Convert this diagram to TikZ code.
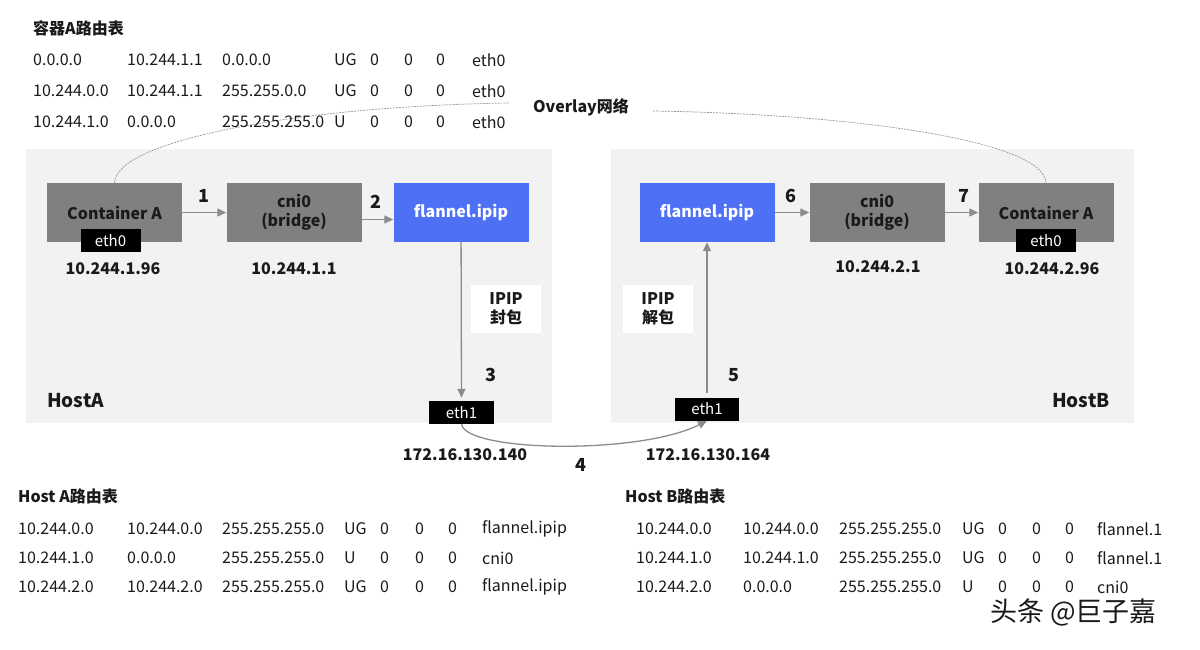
\documentclass[tikz,border=0pt]{standalone}
\usepackage{fontspec}
\setmainfont{Noto Sans CJK SC}
\usetikzlibrary{arrows.meta,positioning}

\definecolor{hostbg}{HTML}{F2F2F2}
\definecolor{boxgray}{HTML}{808080}
\definecolor{flannelblue}{HTML}{4D70F5}
\definecolor{linegray}{HTML}{8C8C8C}
\definecolor{ink}{HTML}{1A1A1A}

\begin{document}
\begin{tikzpicture}[x=1pt,y=-1pt,
  host/.style={fill=hostbg,draw=none,anchor=north west,minimum height=274pt,inner sep=0pt},
  dev/.style={fill=boxgray,minimum width=135pt,minimum height=59pt,inner sep=0pt,align=center,text=ink,font=\fontsize{16}{19}\selectfont\bfseries},
  tun/.style={dev,fill=flannelblue,text=white},
  nic/.style={fill=black,text=white,minimum width=60pt,minimum height=23pt,inner sep=0pt,font=\fontsize{15}{15}\selectfont},
  tag/.style={fill=white,minimum width=70pt,minimum height=48pt,inner sep=0pt,align=center,text=ink,font=\fontsize{16}{19}\selectfont\bfseries},
  ip/.style={text=ink,inner sep=0pt,font=\fontsize{16}{16}\selectfont\bfseries},
  num/.style={text=ink,inner sep=0pt,font=\fontsize{18}{18}\selectfont\bfseries},
  hostlbl/.style={text=ink,inner sep=0pt,font=\fontsize{19}{19}\selectfont\bfseries},
  title/.style={anchor=west,text=ink,inner sep=0pt,font=\fontsize{16}{16}\selectfont\bfseries},
  cell/.style={anchor=west,text=ink,inner sep=0pt,font=\fontsize{16}{16}\selectfont},
  flow/.style={-{Triangle[length=9pt,width=8pt]},draw=linegray,line width=1.3pt},
  overlay line/.style={draw=gray!80,dash pattern=on 2pt off 1pt,line width=0.7pt}
]
\useasboundingbox (0,0) rectangle (1200,650);

% hosts
\node[host,minimum width=526pt] (hostA) at (26,149) {};
\node[host,minimum width=523pt] (hostB) at (611,149) {};

% overlay network
\node[title,anchor=center] (overlay) at (581,107) {Overlay网络};
\coordinate (ovl) at (510,103);
\coordinate (ovr) at (653,111);

% host A
\node[dev] (contA) at (114.5,212.5) {Container A};
\node[nic] (eth0A) at (110.5,240.5) {eth0};
\node[ip] (ipA) at (113,269) {10.244.1.96};
\node[dev] (cniA) at (294,212.5) {cni0\\(bridge)};
\node[ip] (ipcniA) at (294,269) {10.244.1.1};
\node[tun] (flA) at (461,212.5) {flannel.ipip};
\node[tag] (encap) at (506,309) {IPIP\\封包};
\node[nic,minimum width=65pt] (eth1A) at (461.5,412.5) {eth1};
\node[hostlbl,anchor=west] (hostAlbl) at (47,401) {HostA};

% host B
\node[tun] (flB) at (707,212.5) {flannel.ipip};
\node[dev] (cniB) at (877,212.5) {cni0\\(bridge)};
\node[dev] (contB) at (1046,212.5) {Container A};
\node[nic] (eth0B) at (1046,240.5) {eth0};
\node[ip] (ipcniB) at (878,267) {10.244.2.1};
\node[ip] (ipB) at (1052,269) {10.244.2.96};
\node[tag] (decap) at (658,309) {IPIP\\解包};
\node[nic,minimum width=64pt] (eth1B) at (707,409) {eth1};
\node[hostlbl,anchor=east] (hostBlbl) at (1110,401) {HostB};

\draw[overlay line] (contA.north) .. controls (116,140) and (300,106) .. (ovl);
\draw[overlay line] (ovr) .. controls (850,114) and (1044,140) .. (contB.north);

% packet path
\draw[flow] (contA) -- (cniA);
\draw[flow] ([yshift=-7pt]cniA.east) -- ([yshift=-7pt]flA.west);
\draw[flow] (flA) -- ([yshift=3pt]eth1A.north);
\draw[flow] (eth1A.south) .. controls (466,452) and (640,455) .. (eth1B.south);
\draw[flow] ([yshift=4pt]eth1B.north) -- (flB);
\draw[flow] (flB) -- (cniB);
\draw[flow] (cniB) -- (contB);

\node[num] (n1) at (204,196) {1};
\node[num] (n2) at (376,202) {2};
\node[num] (n3) at (491,375) {3};
\node[num] (n4) at (581,465) {4};
\node[num] (n5) at (734,375) {5};
\node[num] (n6) at (791,196) {6};
\node[num] (n7) at (964,196) {7};
\node[ip] (pubA) at (465,455) {172.16.130.140};
\node[ip] (pubB) at (708,455) {172.16.130.164};

% container A routes
\node[title] (tcont) at (33,28) {容器A路由表};
\foreach \dst/\gw/\nmask/\flg/\iface [count=\r] in {
  0.0.0.0/10.244.1.1/0.0.0.0/UG/eth0,
  10.244.0.0/10.244.1.1/255.255.0.0/UG/eth0,
  10.244.1.0/0.0.0.0/255.255.255.0/U/eth0}{
  \pgfmathsetmacro\ry{29+31*\r}
  \node[cell] (c-\r-1) at (33,\ry) {\dst};
  \node[cell] (c-\r-2) at (127,\ry) {\gw};
  \node[cell] (c-\r-3) at (222,\ry) {\nmask};
  \node[cell] (c-\r-4) at (334,\ry) {\flg};
  \node[cell] (c-\r-5) at (370,\ry) {0};
  \node[cell] (c-\r-6) at (404,\ry) {0};
  \node[cell] (c-\r-7) at (436,\ry) {0};
  \node[cell] (c-\r-8) at (472,\ry) {\iface};
}

% host A routes
\node[title] (thosta) at (18,496) {Host A路由表};
\foreach \dst/\gw/\flg/\iface [count=\r] in {
  10.244.0.0/10.244.0.0/UG/flannel.ipip,
  10.244.1.0/0.0.0.0/U/cni0,
  10.244.2.0/10.244.2.0/UG/flannel.ipip}{
  \pgfmathsetmacro\ry{500+29*\r}
  \node[cell] (a-\r-1) at (18,\ry) {\dst};
  \node[cell] (a-\r-2) at (127,\ry) {\gw};
  \node[cell] (a-\r-3) at (222,\ry) {255.255.255.0};
  \node[cell] (a-\r-4) at (344,\ry) {\flg};
  \node[cell] (a-\r-5) at (380,\ry) {0};
  \node[cell] (a-\r-6) at (415,\ry) {0};
  \node[cell] (a-\r-7) at (448,\ry) {0};
  \node[cell] (a-\r-8) at (482,\ry) {\iface};
}

% host B routes
\node[title] (thostb) at (625,496) {Host B路由表};
\foreach \dst/\gw/\flg/\iface [count=\r] in {
  10.244.0.0/10.244.0.0/UG/flannel.1,
  10.244.1.0/10.244.1.0/UG/flannel.1,
  10.244.2.0/0.0.0.0/U/cni0}{
  \pgfmathsetmacro\ry{500+29*\r}
  \node[cell] (b-\r-1) at (636,\ry) {\dst};
  \node[cell] (b-\r-2) at (743,\ry) {\gw};
  \node[cell] (b-\r-3) at (839,\ry) {255.255.255.0};
  \node[cell] (b-\r-4) at (962,\ry) {\flg};
  \node[cell] (b-\r-5) at (998,\ry) {0};
  \node[cell] (b-\r-6) at (1032,\ry) {0};
  \node[cell] (b-\r-7) at (1065,\ry) {0};
  \node[cell] (b-\r-8) at (1097,\ry) {\iface};
}

\node[anchor=west,text=ink,inner sep=0pt,font=\fontsize{27}{27}\selectfont] (wm) at (990,612) {头条 @巨子嘉};
\end{tikzpicture}
\end{document}
